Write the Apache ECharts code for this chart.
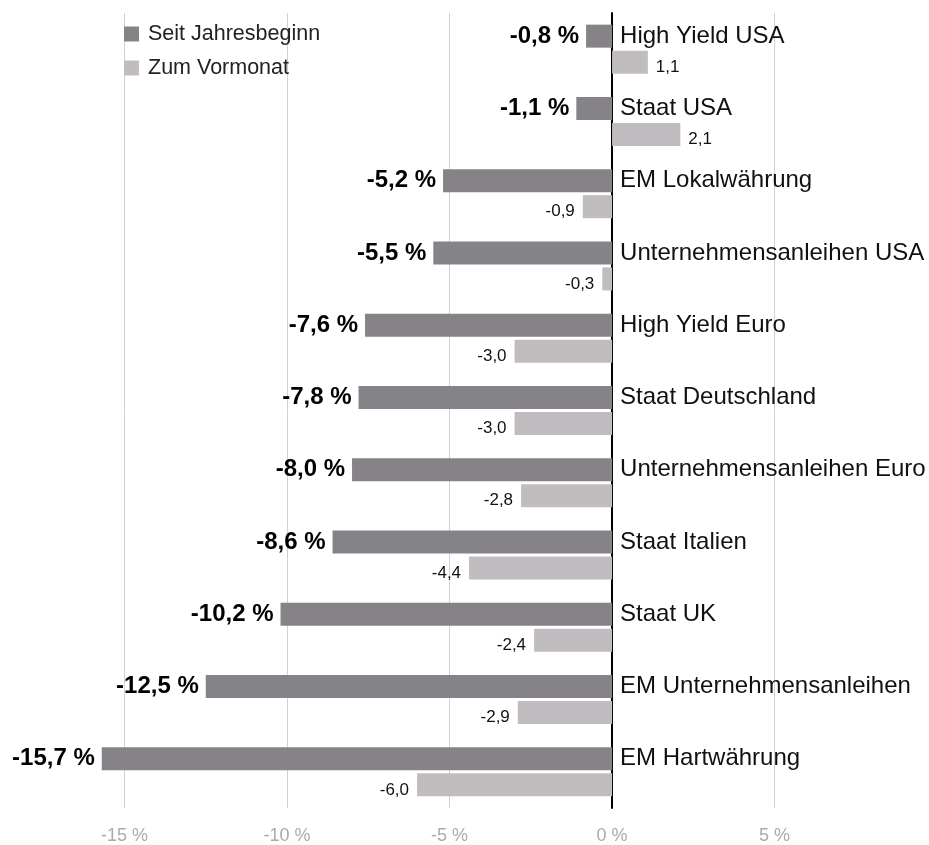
<!DOCTYPE html>
<html>
<head>
<meta charset="utf-8">
<script src="https://cdn.jsdelivr.net/npm/echarts@6/dist/echarts.min.js"></script>
<style>
  html, body { margin: 0; padding: 0; background: #fff; }
  #chart { width: 929px; height: 845px; }
</style>
</head>
<body>
<div id="chart"></div>
<script>
var categories = ['High Yield USA', 'Staat USA', 'EM Lokalwährung', 'Unternehmensanleihen USA', 'High Yield Euro',
  'Staat Deutschland', 'Unternehmensanleihen Euro', 'Staat Italien', 'Staat UK', 'EM Unternehmensanleihen', 'EM Hartwährung'];
var seitJahresbeginn = [-0.8, -1.1, -5.2, -5.5, -7.6, -7.8, -8.0, -8.6, -10.2, -12.5, -15.7];
var zumVormonat = [1.1, 2.1, -0.9, -0.3, -3.0, -3.0, -2.8, -4.4, -2.4, -2.9, -6.0];
var tickValues = [-15, -10, -5, 0, 5];

var FONT = 'Helvetica, Arial, "Liberation Sans", sans-serif';
var X_MIN = -16, X_MAX = 9.75;

function fmt(v) {
  return v.toFixed(1).replace('.', ',');
}

// labels sit on the side of the bar end
var ytdData = seitJahresbeginn.map(function (v) {
  return { value: v, label: { position: v < 0 ? 'left' : 'right' } };
});
var momData = zumVormonat.map(function (v) {
  return { value: v, label: { position: v < 0 ? 'left' : 'right' } };
});

var chart = echarts.init(document.getElementById('chart'));
var gridLeft = 92, gridRight = 0;
var plotW = 929 - gridLeft - gridRight;
// pixel distance from grid left edge to the 0 line
var zeroOffset = plotW * (0 - X_MIN) / (X_MAX - X_MIN);

chart.setOption({
  animation: false,
  textStyle: { fontFamily: FONT },
  grid: { left: gridLeft, right: gridRight, top: 13, bottom: 32, containLabel: false },
  legend: {
    orient: 'vertical',
    left: 119,
    top: 18,
    icon: 'rect',
    itemWidth: 15,
    itemHeight: 15,
    itemGap: 12,
    textStyle: { fontSize: 21.5, color: '#222', fontFamily: FONT, padding: [0, 0, 0, 4] },
    data: ['Seit Jahresbeginn', 'Zum Vormonat']
  },
  xAxis: {
    type: 'value',
    min: X_MIN,
    max: X_MAX,
    axisLine: { show: false },
    axisTick: { show: false, customValues: tickValues },
    splitLine: { show: true, lineStyle: { color: '#d2d2d2', width: 1 } },
    axisLabel: {
      customValues: tickValues,
      margin: 19,
      fontSize: 18,
      color: '#aaaaaa',
      fontFamily: FONT,
      formatter: function (v) { return v + ' %'; }
    }
  },
  yAxis: {
    type: 'category',
    inverse: true,
    data: categories,
    position: 'left',
    offset: -zeroOffset,
    axisLine: { onZero: false, lineStyle: { color: '#000', width: 2 } },
    axisTick: { show: false },
    axisLabel: {
      inside: true,
      margin: 8,
      fontFamily: FONT,
      // empty second line lifts the name up to the dark bar
      formatter: function (v) { return '{n|' + v + '}\n{s| }'; },
      rich: {
        n: { fontSize: 24, lineHeight: 26, color: '#111', fontFamily: FONT },
        s: { fontSize: 10, lineHeight: 26 }
      }
    }
  },
  series: [
    {
      name: 'Seit Jahresbeginn',
      type: 'bar',
      data: ytdData,
      barWidth: 23,
      barGap: '13%',
      itemStyle: { color: '#858388' },
      label: {
        show: true,
        distance: 7,
        fontSize: 24,
        fontWeight: 'bold',
        color: '#000',
        fontFamily: FONT,
        formatter: function (p) { return fmt(p.value) + ' %'; }
      }
    },
    {
      name: 'Zum Vormonat',
      type: 'bar',
      data: momData,
      barWidth: 23,
      itemStyle: { color: '#c1bcbf' },
      label: {
        show: true,
        distance: 8,
        offset: [0, 5],
        fontSize: 17,
        color: '#111',
        fontFamily: FONT,
        formatter: function (p) { return fmt(p.value); }
      }
    }
  ]
});
</script>
</body>
</html>
